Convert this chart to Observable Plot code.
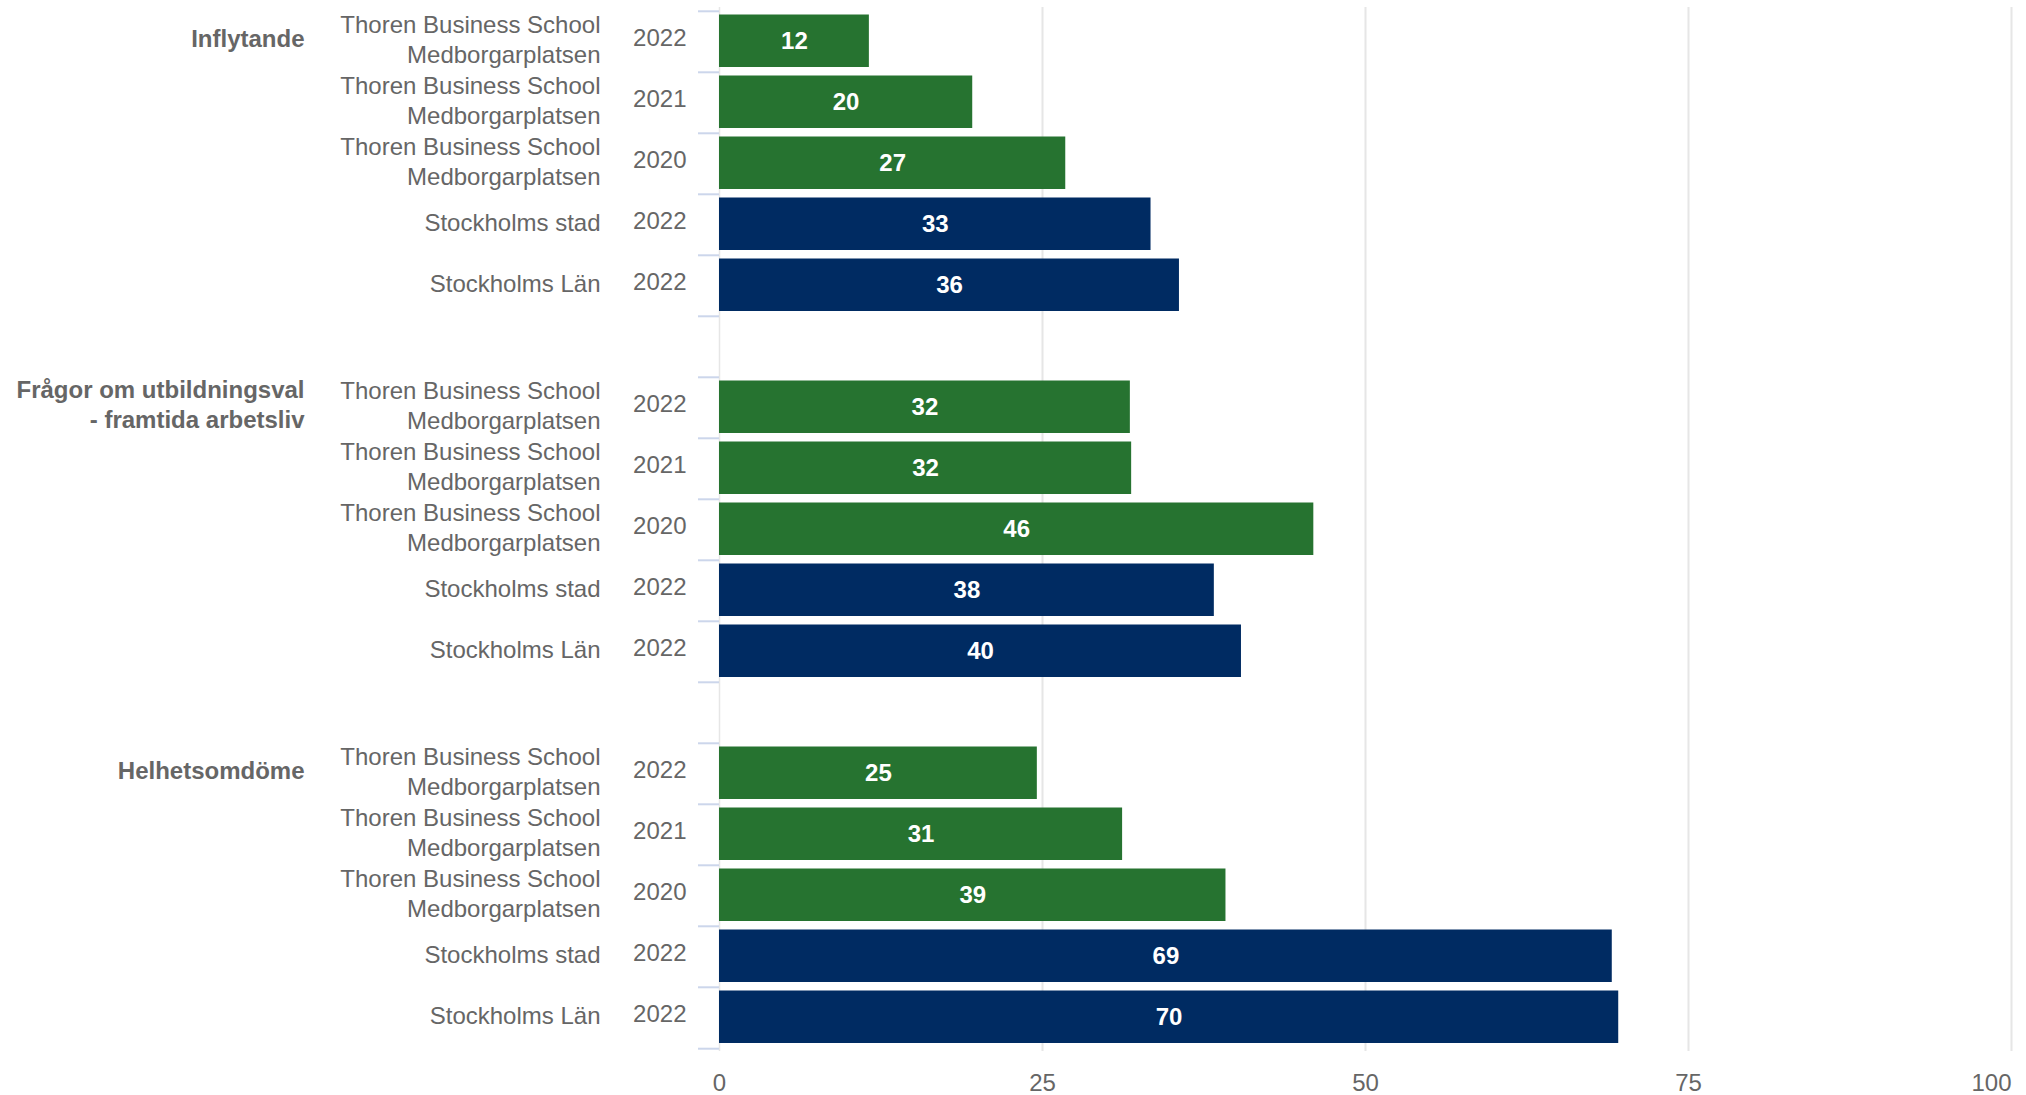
<!DOCTYPE html>
<html>
<head>
<meta charset="utf-8">
<script src="https://cdn.jsdelivr.net/npm/d3@7"></script>
<script src="https://cdn.jsdelivr.net/npm/@observablehq/plot@0.6"></script>
<style>
  html, body { margin: 0; padding: 0; background: #ffffff; }
  #chart { width: 2026px; height: 1095px; overflow: hidden; }
</style>
</head>
<body>
<div id="chart"></div>
<script>
// ---- data ----
const groupNames = ["Inflytande", "Frågor om utbildningsval\n- framtida arbetsliv", "Helhetsomdöme"];
const unitNames = [
  "Thoren Business School\nMedborgarplatsen",
  "Thoren Business School\nMedborgarplatsen",
  "Thoren Business School\nMedborgarplatsen",
  "Stockholms stad",
  "Stockholms Län"
];
const years = ["2022", "2021", "2020", "2022", "2022"];
const kinds = ["school", "school", "school", "region", "region"];
const inflytande = [11.6, 19.6, 26.8, 33.4, 35.6];
const fragor = [31.8, 31.9, 46.0, 38.3, 40.4];
const helhet = [24.6, 31.2, 39.2, 69.1, 69.6];
const xTicks = [0, 25, 50, 75, 100];
const kindColors = {school: "#267330", region: "#002b62"};

// ---- build table ----
const groupValues = [inflytande, fragor, helhet];
const rows = groupNames.flatMap((g, gi) => unitNames.map((u, i) => ({
  key: `${gi}-${i}`, group: g, unit: u, year: years[i], value: groupValues[gi][i], kind: kinds[i]
})));
const domain = [];
groupNames.forEach((g, gi) => {
  if (gi > 0) domain.push(`gap-${gi}`);
  unitNames.forEach((u, i) => domain.push(`${gi}-${i}`));
});
const groupRows = groupNames.map((g, gi) => ({key: `${gi}-0`, group: g}));

const W = 2026, H = 1095, MT = 7, MB = 44, ML = 719, MR = 15;
const bw = (H - MT - MB) / domain.length;
const font = "'Liberation Sans', Arial, Helvetica, sans-serif";

const chart = Plot.plot({
  width: W,
  height: H,
  marginTop: MT,
  marginBottom: MB,
  marginLeft: ML,
  marginRight: MR,
  x: {domain: [0, 100], axis: null},
  y: {type: "band", domain, padding: 0, axis: null},
  style: {fontFamily: font, fontSize: "24px", color: "#666666", background: "#ffffff", overflow: "visible"},
  marks: [
    Plot.ruleX(xTicks.slice(1), {stroke: "#e6e6e6", strokeWidth: 2}),
    Plot.ruleX([0], {stroke: "#e6e6e6", strokeWidth: 1.5}),
    Plot.ruleY(domain, {y: d => d, x1: 0, x2: 0, insetLeft: -21, dy: -bw / 2, stroke: "#ccd6eb", strokeWidth: 2}),
    Plot.ruleY(domain.slice(-1), {y: d => d, x1: 0, x2: 0, insetLeft: -21, dy: bw / 2, stroke: "#ccd6eb", strokeWidth: 2}),
    Plot.barX(rows, {
      y: "key", x: "value",
      fill: d => kindColors[d.kind],
      insetTop: 3.5, insetBottom: 5
    }),
    Plot.text(rows, {
      y: "key", x: d => d.value / 2, dy: -1,
      text: d => d3.format(".0f")(d.value),
      fill: "#ffffff", fontWeight: "bold", fontSize: 24, fontFamily: font
    }),
    Plot.text(rows, {
      y: "key", x: 0, dx: -33, dy: -4, text: "year", textAnchor: "end",
      fill: "#666666", fontSize: 24, fontFamily: font
    }),
    Plot.text(rows, {
      y: "key", x: 0, dx: -119, dy: -4, text: "unit", textAnchor: "end", lineHeight: 1.25,
      fill: "#666666", fontSize: 24, fontFamily: font
    }),
    Plot.text(groupRows, {
      y: "key", x: 0, dx: -415, dy: -5, text: "group", textAnchor: "end", lineHeight: 1.25,
      fill: "#666666", fontWeight: "bold", fontSize: 24, fontFamily: font
    }),
    Plot.axisX({ticks: xTicks.slice(0, -1), tickSize: 0, tickPadding: 22, fontSize: 24, fill: "#666666", label: null}),
    Plot.axisX({ticks: xTicks.slice(-1), tickSize: 0, tickPadding: 22, fontSize: 24, fill: "#666666", textAnchor: "end", label: null})
  ]
});
document.getElementById("chart").appendChild(chart);
</script>
</body>
</html>
